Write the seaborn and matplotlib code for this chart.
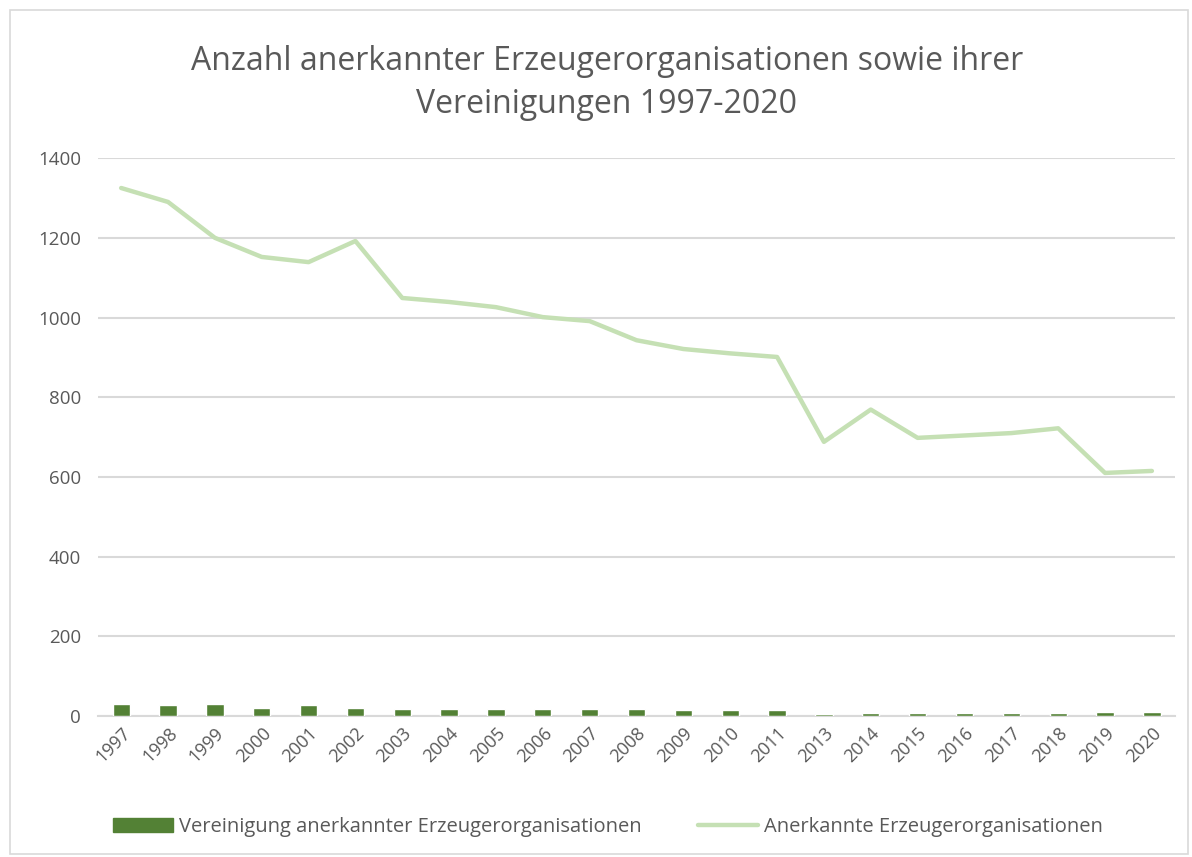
import matplotlib
matplotlib.use("Agg")
import matplotlib.pyplot as plt
import seaborn as sns
import numpy as np
import pandas as pd
from matplotlib.patches import Rectangle, Patch
from matplotlib.lines import Line2D

years = ["1997", "1998", "1999", "2000", "2001", "2002", "2003", "2004", "2005", "2006",
         "2007", "2008", "2009", "2010", "2011", "2013", "2014", "2015", "2016", "2017",
         "2018", "2019", "2020"]
vereinigungen = [30, 27, 30, 21, 27, 21, 18, 18, 18, 18, 18, 17, 15, 15, 15, 4, 7, 7, 7, 7, 7, 10, 10]
erzeugerorg = [1325, 1290, 1200, 1152, 1139, 1192, 1049, 1039, 1026, 1001, 991, 943, 921, 910,
               901, 688, 769, 698, 704, 710, 722, 610, 615]

title = "Anzahl anerkannter Erzeugerorganisationen sowie ihrer\nVereinigungen 1997-2020"
label_bar = "Vereinigung anerkannter Erzeugerorganisationen"
label_line = "Anerkannte Erzeugerorganisationen"

bar_color = "#538135"
line_color = "#C5E0B4"
text_color = "#595959"
grid_color = "#D9D9D9"

sns.set_theme(style="white")
plt.rcParams['font.family'] = ['Open Sans', 'DejaVu Sans']

df = pd.DataFrame({"year": years, "v": vereinigungen, "e": erzeugerorg,
                   "pos": np.arange(len(years))})

fig = plt.figure(figsize=(11.92, 8.57), dpi=100)
ax = fig.add_axes([0.082, 0.1645, 0.904, 0.651])

sns.barplot(data=df, x="year", y="v", order=years, color=bar_color, width=0.37,
            saturation=1, ax=ax, zorder=3)
sns.lineplot(data=df, x="pos", y="e", color=line_color, linewidth=3.2, ax=ax, zorder=4,
             solid_capstyle="round")

ax.set_ylim(0, 1400)
ax.set_xlim(-0.5, len(years) - 0.5)
ax.set_yticks(np.arange(0, 1401, 200))
ax.set_xticks(np.arange(len(years)))
ax.set_xticklabels(years, rotation=45, ha="right", rotation_mode="anchor")
ax.tick_params(axis="both", colors=text_color, length=0)
ax.tick_params(axis="y", pad=12, labelsize=13.5)
ax.tick_params(axis="x", pad=6, labelsize=13)
ax.yaxis.grid(True, color=grid_color, linewidth=1.5)
ax.set_axisbelow(True)
for s in ["top", "right", "left"]:
    ax.spines[s].set_visible(False)
ax.spines["bottom"].set_color(grid_color)
ax.spines["bottom"].set_linewidth(1.5)
ax.set_xlabel("")
ax.set_ylabel("")

fig.text(0.509, 0.903, title, ha="center", va="center", fontsize=23, color=text_color,
         linespacing=1.4)

handles = [Patch(facecolor=bar_color, edgecolor=bar_color),
           Line2D([0], [0], color=line_color, linewidth=3.2)]
fig.legend(handles, [label_bar, label_line], loc="center", bbox_to_anchor=(0.51, 0.035),
           ncol=2, frameon=False, fontsize=14.5, labelcolor=text_color, handlelength=3.0,
           handletextpad=0.3, columnspacing=2.8)

fig.patches.append(Rectangle((0.008, 0.003), 0.989, 0.985, transform=fig.transFigure,
                             fill=False, edgecolor=grid_color, linewidth=1.2))

fig.savefig("out.png", dpi=100)
